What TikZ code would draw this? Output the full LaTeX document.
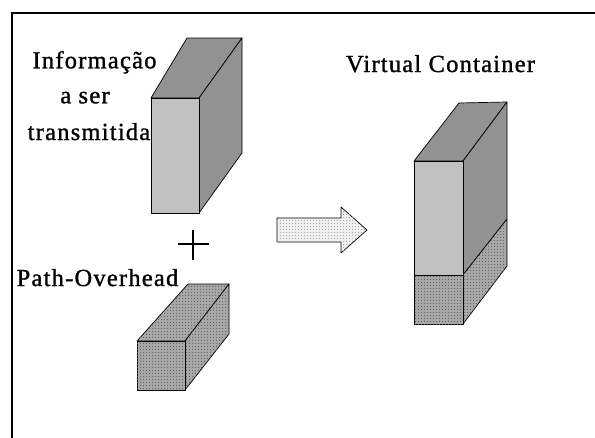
\documentclass[tikz,border=0pt]{standalone}
\usepackage{fontspec}
\newfontfamily\lblfont{Liberation Serif}[LetterSpace=5, FakeBold=1.2]
\usetikzlibrary{patterns}

% stipple used as a surface texture
\pgfdeclarepatternformonly{fine dots}{\pgfqpoint{-0.6pt}{-0.6pt}}{\pgfqpoint{2.1pt}{2.1pt}}{\pgfqpoint{2.7pt}{2.7pt}}{%
  \pgfpathcircle{\pgfqpoint{0pt}{0pt}}{0.6pt}\pgfusepath{fill}}

\definecolor{facelight}{HTML}{C0C0C0}
\definecolor{facedark}{HTML}{929292}
\definecolor{ohbase}{HTML}{A8A8A8}
\definecolor{ohdots}{HTML}{606060}
\definecolor{arrowbase}{HTML}{F0F0F0}
\definecolor{arrowdots}{HTML}{A8A8A8}

\tikzset{
  face/.style={draw=black, line width=0.7pt, line join=round},
  lightface/.style={face, fill=facelight},
  darkface/.style={face, fill=facedark},
  ohface/.style={face, fill=ohbase, postaction={pattern=fine dots, pattern color=ohdots}},
  arrowface/.style={face, fill=arrowbase, postaction={pattern=fine dots, pattern color=arrowdots}},
  label/.style={inner sep=0pt, anchor=base, font=\lblfont\fontsize{24.5}{28}\selectfont},
  frameline/.style={line width=2.6pt, line cap=rect},
}

\begin{document}
\begin{tikzpicture}[x=1pt, y=-1pt]
  \useasboundingbox (0,0) rectangle (595,437);
  \fill[white] (0,0) rectangle (595,437);

  % frame
  \coordinate (ftl) at (12,13);
  \coordinate (ftr) at (595,13);
  \coordinate (fbl) at (12,437);
  \draw[frameline] (ftr) -- (ftl) -- (fbl);

  % payload block
  \path[darkface] (151,98) -- (187,38) -- (242,38) -- (199,98) -- cycle;
  \path[darkface] (199,98) -- (242,38) -- (242,153) -- (199,213) -- cycle;
  \path[lightface] (151,98) rectangle (199,213);

  % plus sign
  \draw[line width=1.3pt] (178,244) -- (209,244) (193,230) -- (193,260);

  % path overhead block
  \path[ohface] (137,341) -- (188,284) -- (229,284) -- (185,341) -- cycle;
  \path[ohface] (185,341) -- (229,284) -- (229,334) -- (185,390) -- cycle;
  \path[ohface] (137,341) rectangle (185,390);

  % block arrow
  \path[arrowface] (277,218) -- (341,218) -- (341,207) -- (367,230)
    -- (341,253) -- (341,242) -- (277,242) -- cycle;

  % virtual container block
  \path[darkface] (414,161) -- (459,103) -- (507,102) -- (463,161) -- cycle;
  \path[darkface] (463,161) -- (507,102) -- (507,219) -- (463,275) -- cycle;
  \path[ohface] (463,275) -- (507,219) -- (507,266) -- (463,324) -- cycle;
  \path[lightface] (414,161) rectangle (463,275);
  \path[ohface] (414,275) rectangle (463,324);

  % labels
  \node[label] (info1) at (94.5,68.3) {Informação};
  \node[label] (info2) at (85,103.3) {a ser};
  \node[label] (info3) at (89,140) {transmitida};
  \node[label] (poh) at (97.5,286) {Path-Overhead};
  \node[label] (vc) at (440.5,72) {Virtual Container};
\end{tikzpicture}
\end{document}
